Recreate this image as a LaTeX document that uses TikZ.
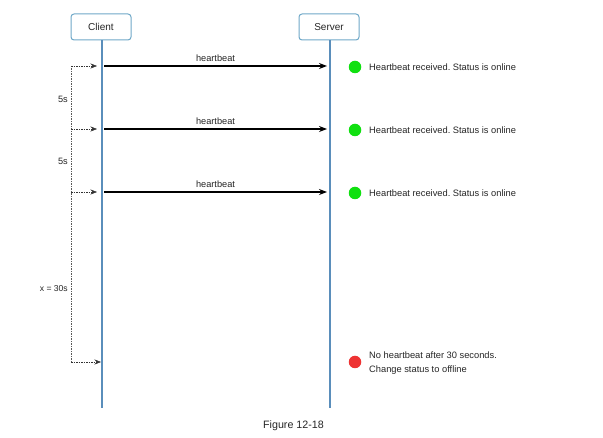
\documentclass[tikz,border=0pt]{standalone}
\usepackage{fontspec}
\setmainfont{Liberation Sans}
\usetikzlibrary{arrows.meta}
\definecolor{boxedge}{HTML}{6FA8C8}
\definecolor{life}{HTML}{5A8EBB}
\definecolor{okgreen}{HTML}{10E010}
\definecolor{badred}{HTML}{EE3333}
\frenchspacing
\begin{document}
\begin{tikzpicture}[x=1pt,y=-1pt,
  actor/.style={draw=boxedge,line width=1pt,rounded corners=3pt,fill=white,minimum width=60pt,minimum height=26pt,font=\fontsize{10}{12}\selectfont,text=black!85},
  lifeline/.style={draw=life,line width=1.4pt},
  msg/.style={-{Stealth[length=8pt,width=6pt]},line width=1.3pt,black},
  tick/.style={-{Stealth[length=6.5pt,width=5pt]},dash pattern=on 1.5pt off 1pt,line width=0.5pt,black!80},
  loopline/.style={dash pattern=on 1.5pt off 1pt,line width=0.5pt,black!65},
  lbl/.style={font=\fontsize{9.2}{11}\selectfont,text=black!85,inner sep=1pt},
  dot/.style={circle,minimum size=12.5pt,inner sep=0pt},
  note/.style={font=\fontsize{9.3}{13.5}\selectfont,text=black!85,anchor=west,align=left,inner sep=0pt}]
\useasboundingbox (0,0) rectangle (603,438);
\fill[white] (0,0) rectangle (603,438);
% lifelines
\coordinate (cb) at (102,408);
\coordinate (sb) at (330,408);
\node[actor] (client) at (101,27) {Client};
\node[actor] (server) at (329,27) {Server};
\draw[lifeline] (client.south -| cb) -- (cb);
\draw[lifeline] (server.south -| sb) -- (sb);
% messages
\foreach \y/\n in {66/1,129/2,192/3}{
  \coordinate (c\n) at (104,\y);
  \coordinate (s\n) at (327,\y);
  \draw[msg] (c\n) -- node[lbl,above=3pt] {heartbeat} (s\n);
  \node[dot,fill=okgreen] (g\n) at (355,\y+1) {};
  \node[note] (t\n) at (369,\y+1) {Heartbeat received. Status is online};
}
% red status
\node[dot,fill=badred] (r) at (355,362) {};
\node[note] (t4) at (369,363) {No heartbeat after 30 seconds.\\Change status to offline};
% dashed timing loops
\coordinate (l1) at (71,66);
\coordinate (l2) at (71,129);
\coordinate (l3) at (71,192);
\coordinate (l4) at (71,362);
\coordinate (a1) at (97,66);
\coordinate (a2) at (97,129);
\coordinate (a3) at (97,192);
\coordinate (a4) at (101,362);
\draw[loopline] (l1) -- (l4);
\foreach \n in {1,2,3,4}{ \draw[tick] (l\n) -- (a\n); }
\node[lbl,anchor=east] at (69,99) {5s};
\node[lbl,anchor=east] at (69,161) {5s};
\node[lbl,anchor=east,font=\fontsize{8.6}{10}\selectfont] at (69,289) {x = 30s};
% caption
\node[font=\fontsize{10.7}{12}\selectfont,text=black!85] (cap) at (293.5,426) {Figure 12-18};
\end{tikzpicture}
\end{document}
